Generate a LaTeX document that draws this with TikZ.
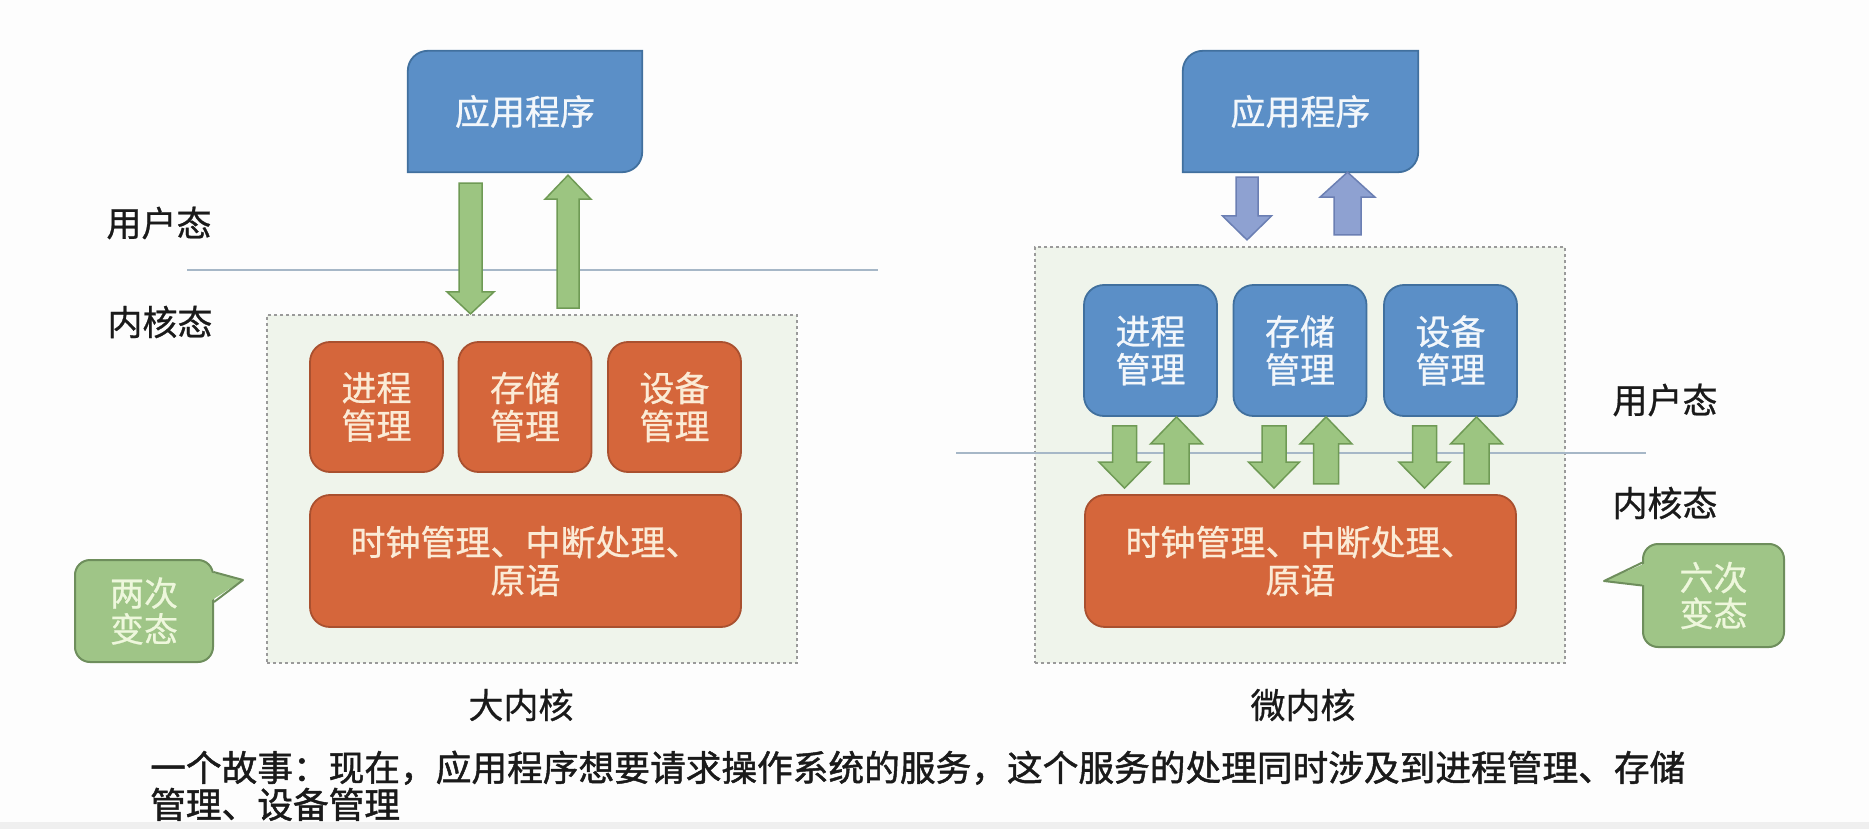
\documentclass[tikz,border=0pt]{standalone}
\usepackage{fontspec}
\setmainfont{Noto Sans CJK SC}[FakeBold=0.7]
\newfontfamily\storyfont{Noto Sans CJK SC}[FakeBold=1.3]
\usetikzlibrary{calc}
\definecolor{bgc}{HTML}{FDFDFD}
\definecolor{bandc}{HTML}{EFEFEF}
\definecolor{bfill}{HTML}{5B8FC7}
\definecolor{bborder}{HTML}{41709E}
\definecolor{btext}{HTML}{F3F7FB}
\definecolor{ofill}{HTML}{D5663B}
\definecolor{oborder}{HTML}{A9502F}
\definecolor{otext}{HTML}{FBEBD6}
\definecolor{gfill}{HTML}{9CC581}
\definecolor{gborder}{HTML}{6F9A55}
\definecolor{pfill}{HTML}{8EA1D1}
\definecolor{pborder}{HTML}{6B7FB3}
\definecolor{dashfill}{HTML}{EFF4EB}
\definecolor{dashc}{HTML}{9A9A9A}
\definecolor{cfill}{HTML}{9FC587}
\definecolor{cborder}{HTML}{6E8E5C}
\definecolor{ctext}{HTML}{EEF7DC}
\definecolor{linec}{HTML}{A6B7C7}
\definecolor{lbl}{HTML}{1A1A1A}
% block arrow: #1 style, #2 from, #3 to, #4 half shaft, #5 half head, #6 head length
\newcommand{\barrow}[6]{%
  \filldraw[#1] let \p1=(#2), \p2=(#3), \n1={ifthenelse(\y2>\y1,1,-1)}, \n2={\y2-\n1*#6} in
   (\x1-#4,\y1) -- (\x1-#4,\n2) -- (\x1-#5,\n2) -- (\x1,\y2) -- (\x1+#5,\n2) -- (\x1+#4,\n2) -- (\x1+#4,\y1) -- cycle;}
% application box shape with two rounded corners
\newcommand{\appshape}[1]{%
  \filldraw[fill=bfill, draw=bborder, line width=1.8pt]
   (#1.south west) -- ([yshift=-20pt]#1.north west) arc[start angle=180,end angle=90,radius=20pt]
   -- (#1.north east) -- ([yshift=20pt]#1.south east) arc[start angle=0,end angle=-90,radius=20pt] -- cycle;}
\begin{document}
\begin{tikzpicture}[x=1pt,y=1pt,
  every node/.style={font=\fontsize{35}{38}\selectfont, inner sep=0pt, align=center},
  kbox/.style={draw=dashc, fill=dashfill, dash pattern=on 3pt off 3pt, line width=2.2pt},
  obox/.style={draw=oborder, fill=ofill, rounded corners=20pt, line width=1.8pt, text=otext},
  bbox/.style={draw=bborder, fill=bfill, rounded corners=20pt, line width=1.8pt, text=btext},
  callout/.style={draw=cborder, fill=cfill, rounded corners=15pt, line width=2pt, text=ctext, font=\fontsize{34}{36}\selectfont},
  garrow/.style={fill=gfill, draw=gborder, line width=1.5pt},
  parrow/.style={fill=pfill, draw=pborder, line width=1.5pt},
  lab/.style={text=lbl},
  sepline/.style={draw=linec, line width=2pt},
  apptext/.style={text=btext},
  story/.style={text=lbl, anchor=base west, font=\storyfont\fontsize{35.7}{37}\selectfont}]
\useasboundingbox (0,0) rectangle (1869,-829);
\fill[bgc] (0,0) rectangle (1869,-829);
\fill[bandc] (0,-822) rectangle (1869,-829);

% ================= left: big kernel =================
\node[minimum width=234, minimum height=121] (appL) at (525,-111.5) {};
\appshape{appL}
\node[apptext] (appLt) at (appL.center) {应用程序};

\node[kbox, minimum width=530, minimum height=348] (kbL) at (532,-489) {};
\node[obox, minimum width=133, minimum height=130] (oL1) at (376.5,-407) {进程\\管理};
\node[obox, minimum width=133, minimum height=130] (oL2) at (525,-407) {存储\\管理};
\node[obox, minimum width=133, minimum height=130] (oL3) at (674.5,-407) {设备\\管理};
\node[obox, minimum width=431, minimum height=132] (bigL) at (525.5,-561) {时钟管理、中断处理、\\原语};

\coordinate (sepL1) at (187,-270);
\coordinate (sepL2) at (878,-270);
\draw[sepline] (sepL1) -- (sepL2);

\coordinate (aLd1) at ($(appL.south)+(-54.5,-11)$);
\coordinate (aLd2) at (aLd1 |- kbL.north);
\coordinate (aLu1) at ($(appL.south)+(43,-136)$);
\coordinate (aLu2) at ($(appL.south)+(43,-3)$);
\barrow{garrow}{aLd1}{aLd2}{11.5}{23.5}{22}
\barrow{garrow}{aLu1}{aLu2}{11}{23}{24}

\node[lab] (uL) at (159,-223) {用户态};
\node[lab] (kL) at (160,-322) {内核态};
\node[lab] (nameL) at (521,-705) {大内核};

\node[callout, minimum width=138, minimum height=102] (cL) at (144,-611) {两次\\变态};
\coordinate (tL) at (243,-580);
\fill[cfill] ($(cL.east)+(-5,39)$) -- (tL) -- ($(cL.east)+(-5,9)$) -- cycle;
\draw[cborder, line width=2pt, line join=round] ($(cL.east)+(-0.5,39)$) -- (tL) -- ($(cL.east)+(0,9)$);

% ================= right: micro kernel =================
\node[minimum width=235, minimum height=121] (appR) at (1300.5,-111.5) {};
\appshape{appR}
\node[apptext] (appRt) at (appR.center) {应用程序};

\node[kbox, minimum width=530, minimum height=416] (kbR) at (1300,-455) {};
\node[bbox, minimum width=133, minimum height=131] (bR1) at (1150.5,-350.5) {进程\\管理};
\node[bbox, minimum width=133, minimum height=131] (bR2) at (1300,-350.5) {存储\\管理};
\node[bbox, minimum width=133, minimum height=131] (bR3) at (1450.5,-350.5) {设备\\管理};
\node[obox, minimum width=431, minimum height=132] (bigR) at (1300.5,-561) {时钟管理、中断处理、\\原语};

\coordinate (sepR1) at (956,-453);
\coordinate (sepR2) at (1646,-453);
\draw[sepline] (sepR1) -- (sepR2);

\coordinate (aRd1) at ($(appR.south)+(-53.5,-5)$);
\coordinate (aRd2) at ($(kbR.north)+(-53,6)$);
\coordinate (aRu1) at ($(kbR.north)+(47.5,11)$);
\coordinate (aRu2) at ($(appR.south)+(47,0)$);
\barrow{parrow}{aRd1}{aRd2}{11}{24.5}{24}
\barrow{parrow}{aRu1}{aRu2}{13.5}{27.5}{25}

\foreach \b in {bR1,bR2,bR3}{
  \coordinate (\b d1) at ($(\b.south)+(-26,-9)$);
  \coordinate (\b d2) at ($(\b d1 |- bigR.north)+(0,6)$);
  \coordinate (\b u1) at ($(\b.south)+(26,-67)$);
  \coordinate (\b u2) at ($(\b.south)+(26,0)$);
  \barrow{garrow}{\b d1}{\b d2}{12}{25.5}{26}
  \barrow{garrow}{\b u1}{\b u2}{12.5}{26}{27}
}

\node[lab] (uR) at (1665,-400) {用户态};
\node[lab] (kR) at (1665,-503) {内核态};
\node[lab] (nameR) at (1303,-705) {微内核};

\node[callout, minimum width=141, minimum height=103] (cR) at (1713.5,-595.5) {六次\\变态};
\coordinate (tR) at (1604,-581);
\fill[cfill] ($(cR.west)+(5,33)$) -- (tR) -- ($(cR.west)+(5,10)$) -- cycle;
\draw[cborder, line width=2pt, line join=round] ($(cR.west)+(0.5,33)$) -- (tR) -- ($(cR.west)+(0,10)$);

% ================= story text =================
\node[story] (storyA) at (150,-781) {一个故事：现在，应用程序想要请求操作系统的服务，这个服务的处理同时涉及到进程管理、存储};
\node[story] (storyB) at (150,-818) {管理、设备管理};
\end{tikzpicture}
\end{document}
